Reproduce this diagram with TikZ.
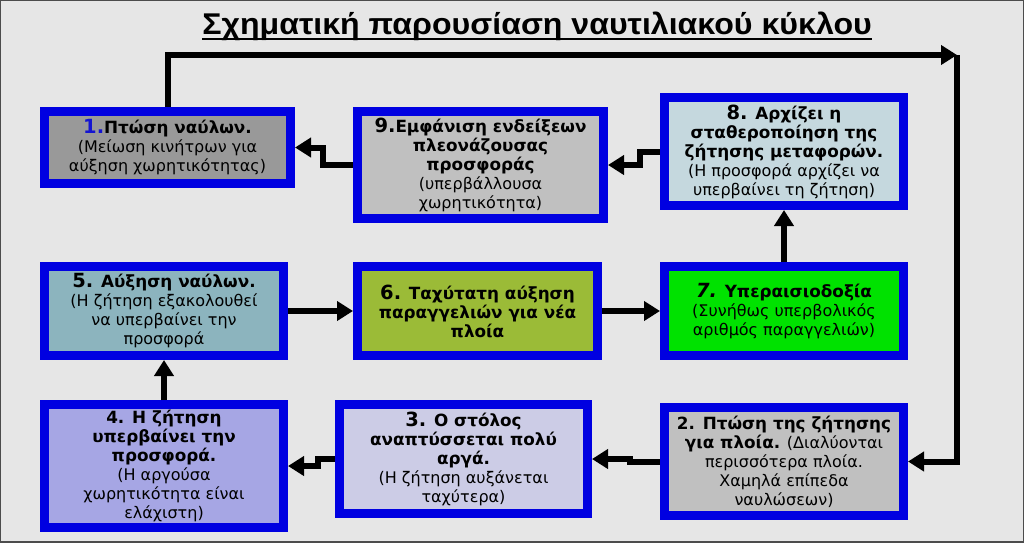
\documentclass[tikz,border=0pt]{standalone}
\usepackage{fontspec}
\setmainfont{DejaVu Sans}
\newfontfamily\titlefont{Liberation Sans}
\usetikzlibrary{arrows.meta}
\definecolor{bgray}{RGB}{230,230,230}
\definecolor{bordblue}{RGB}{0,0,225}
\definecolor{numblue}{RGB}{20,20,210}
\definecolor{midgray}{RGB}{153,153,153}
\definecolor{lightgray}{RGB}{192,192,192}
\definecolor{paleblue}{RGB}{197,216,222}
\definecolor{tealgray}{RGB}{140,180,190}
\definecolor{olive}{RGB}{155,187,55}
\definecolor{brightgreen}{RGB}{0,226,0}
\definecolor{lavender}{RGB}{166,166,228}
\definecolor{palelavender}{RGB}{204,204,230}
\newcommand{\hd}[1]{{\fontsize{16.8}{19}\selectfont\bfseries #1}}
\newcommand{\bignum}[1]{{\fontsize{19.5}{19}\selectfont #1}}
\begin{document}
\begin{tikzpicture}[x=1pt,y=-1pt,
  box/.style={rectangle, draw=bordblue, line width=9pt, align=center, inner sep=1pt,
    font=\fontsize{16}{19}\selectfont},
  flow/.style={line width=6pt, -{Triangle[length=16pt,width=19pt]}}]
\useasboundingbox (0,0) rectangle (1024,542);
\fill [bgray, draw=black!70, line width=1.5pt] (0,0) rectangle (1024,542);
\node [inner sep=0pt, anchor=base] (title) at (537,34)
  {\scalebox{1.07}[1]{\titlefont\bfseries\fontsize{30}{32}\selectfont Σχηματική παρουσίαση ναυτιλιακού κύκλου}};
\draw [line width=2.5pt] ([yshift=-5pt]title.base west) -- ([yshift=-5pt]title.base east);
\node [box, fill=midgray, minimum width=246pt, minimum height=72pt] (b1) at (167.5,147.5)
  {\hd{\textcolor{numblue}{\bignum{1.}}Πτώση ναύλων.}\\(Μείωση κινήτρων για\\αύξηση χωρητικότητας)};
\node [box, fill=lightgray, minimum width=246pt, minimum height=107pt] (b9) at (480.5,165)
  {\hd{\bignum{9.}Εμφάνιση ενδείξεων}\\\hd{πλεονάζουσας}\\\hd{προσφοράς}\\(υπερβάλλουσα\\χωρητικότητα)};
\node [box, fill=paleblue, minimum width=239pt, minimum height=108pt] (b8) at (784,151.5)
  {\hd{\bignum{8.} Αρχίζει η}\\\hd{σταθεροποίηση της}\\\hd{ζήτησης μεταφορών.}\\(Η προσφορά αρχίζει να\\υπερβαίνει τη ζήτηση)};
\node [box, fill=tealgray, minimum width=239pt, minimum height=89pt] (b5) at (164,311)
  {\hd{\bignum{5.} Αύξηση ναύλων.}\\(Η ζήτηση εξακολουθεί\\να υπερβαίνει την\\προσφορά};
\node [box, fill=olive, minimum width=240pt, minimum height=89pt] (b6) at (477.5,311)
  {\hd{\bignum{6.} Ταχύτατη αύξηση}\\\hd{παραγγελιών για νέα}\\\hd{πλοία}};
\node [box, fill=brightgreen, minimum width=239pt, minimum height=89pt] (b7) at (784,311)
  {\hd{\bignum{\itshape 7.} Υπεραισιοδοξία}\\(Συνήθως υπερβολικός\\αριθμός παραγγελιών)};
\node [box, fill=lavender, minimum width=239pt, minimum height=123pt] (b4) at (164,466)
  {\hd{4. Η ζήτηση}\\\hd{υπερβαίνει την}\\\hd{προσφορά.}\\(Η αργούσα\\χωρητικότητα είναι\\ελάχιστη)};
\node [box, fill=palelavender, minimum width=248pt, minimum height=109pt] (b3) at (463.5,459)
  {\hd{\bignum{3.} Ο στόλος}\\\hd{αναπτύσσεται πολύ}\\\hd{αργά.}\\(Η ζήτηση αυξάνεται\\ταχύτερα)};
\node [box, fill=lightgray, minimum width=239pt, minimum height=108pt] (b2) at (784,461.5)
  {\hd{2. Πτώση της ζήτησης}\\\hd{για πλοία.} (Διαλύονται\\περισσότερα πλοία.\\Χαμηλά επίπεδα\\ναυλώσεων)};
\coordinate (corner) at (957,55);
\draw [flow] (b1.north) |- (corner);
\draw [flow] (corner) |- (b2.east);
\draw [flow] (b2.west) -- ++(-30,0) |- (b3.east);
\draw [flow] (b3.west) -- ++(-17,0) |- (b4.east);
\draw [flow] (b4.north) -- (b5.south);
\draw [flow] (b5.east) -- (b6.west);
\draw [flow] (b6.east) -- (b7.west);
\draw [flow] (b7.north) -- (b8.south);
\draw [flow] (b8.west) -- ++(-20,0) |- (b9.east);
\draw [flow] (b9.west) -- ++(-30,0) |- (b1.east);
\end{tikzpicture}
\end{document}
